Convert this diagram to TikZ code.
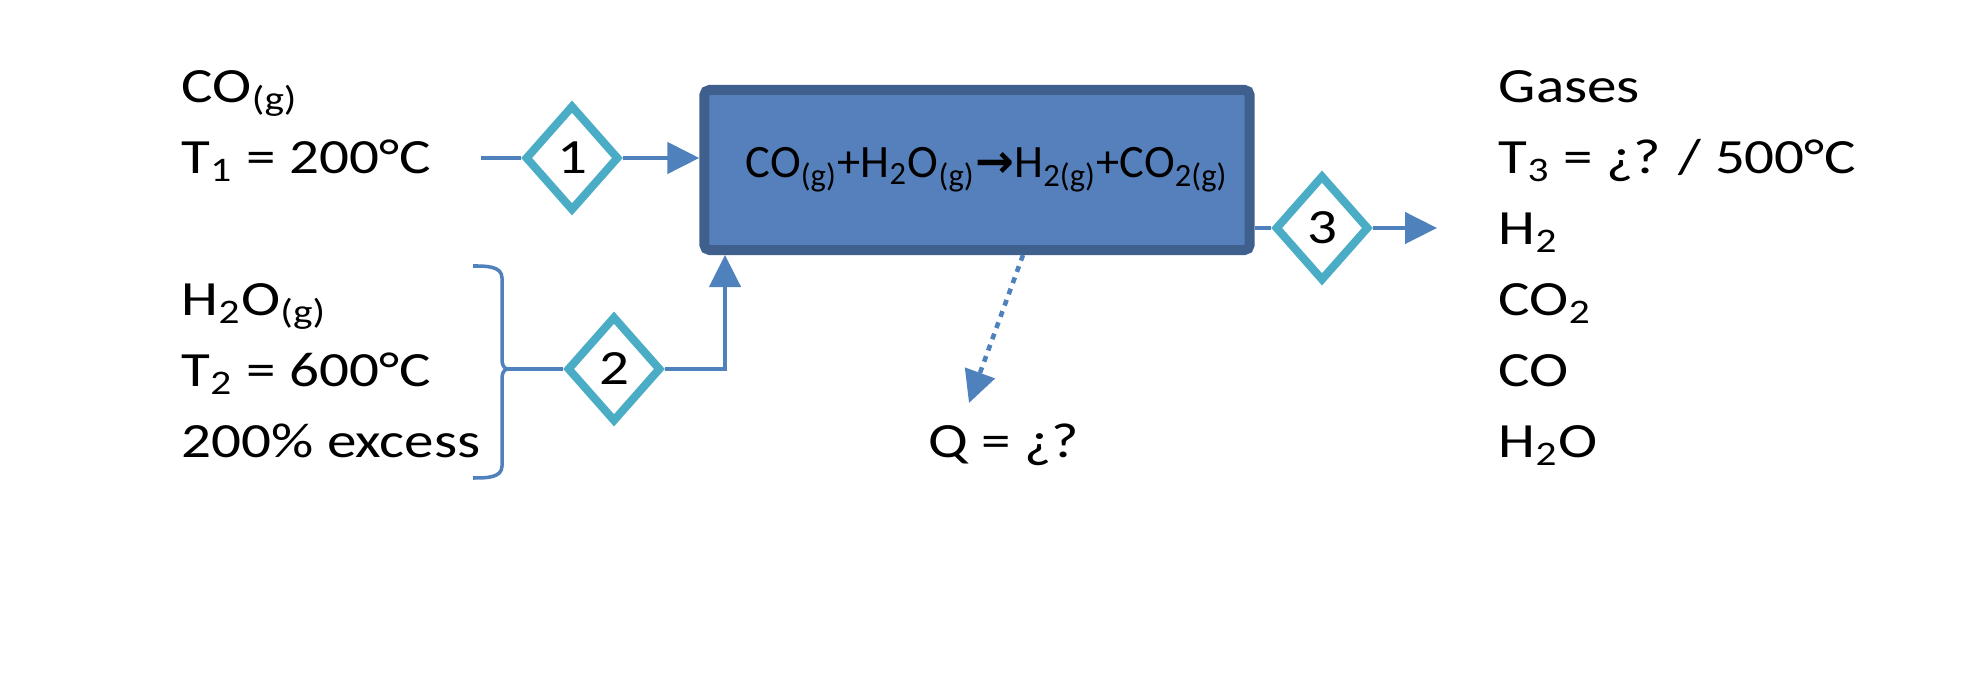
\documentclass[tikz,border=0pt]{standalone}
\usepackage{fontspec}
\setmainfont{Carlito}[FakeStretch=1.2]
\newfontfamily\eqfont{Carlito}
\newfontfamily\arrowfont{DejaVu Sans}
\usepackage{xcolor}
\usetikzlibrary{positioning, arrows.meta, shapes.geometric}

\definecolor{flowblue}{HTML}{4F81BD}
\definecolor{boxfill}{HTML}{5680BB}
\definecolor{boxedge}{HTML}{3F5F8D}
\definecolor{aqua}{HTML}{4BACC6}

\newcommand{\gsub}[1]{\textsubscript{#1}}

\begin{document}
\begin{tikzpicture}[
    x=0.01cm, y=-0.01cm,
    reactor/.style={rectangle, draw=boxedge, fill=boxfill, line width=0.1cm, rounded corners=1.5pt, minimum width=5.45cm, minimum height=1.6cm, inner sep=0pt, font=\eqfont\fontsize{13.2}{15}\selectfont},
    stream/.style={diamond, draw=aqua, fill=white, line width=2.3pt, minimum width=0.94cm, minimum height=1.06cm, inner sep=0pt, font=\fontsize{14}{16}\selectfont},
    txt/.style={anchor=base west, inner sep=0pt, font=\fontsize{14}{16}\selectfont},
    flow/.style={draw=flowblue, line width=1.3pt},
    arr/.style={flow, -{Triangle[length=0.32cm, width=0.31cm]}}
]
\useasboundingbox (0,0) rectangle (1986,686);

% Reactor
\node[reactor] (reactor) at (977,170) {\hspace{0.2cm}CO\gsub{(g)}+H\gsub{2}O\gsub{(g)}{\arrowfont\bfseries →}H\gsub{2(g)}+CO\gsub{2(g)}\raisebox{0.12cm}{}};

% Stream numbers
\node[stream] (d1) at (572,158) {1};
\node[stream] (d2) at (614,369) {2};
\node[stream] (d3) at (1322,228) {3};

% Feed 1
\node[txt] (co) at (181,103) {CO\gsub{(g)}};
\node[txt] (t1) at (181,174) {T\gsub{1} = 200°C};

% Feed 2
\node[txt] (h2o) at (181,316) {H\gsub{2}O\gsub{(g)}};
\node[txt] (t2) at (181,387) {T\gsub{2} = 600°C};
\node[txt] (exc) at (181,458) {200\% excess};

% Product gases
\node[txt] (gases) at (1498,103) {Gases};
\node[txt] (t3) at (1498,174) {T\gsub{3} = ¿? / 500°C};
\node[txt] (h2) at (1498,245) {H\gsub{2}};
\node[txt] (co2) at (1498,316) {CO\gsub{2}};
\node[txt] (coout) at (1498,387) {CO};
\node[txt] (h2oout) at (1498,458) {H\gsub{2}O};

% Heat
\node[txt, anchor=base] (q) at (1004,458) {Q = ¿?};

\coordinate (in1) at (481,158);
\coordinate (brace2) at (508,369);
\coordinate (up2) at (725,255);
\coordinate (out3) at (1437,228);
\coordinate (qsrc) at (1023,255);
\coordinate (qtip) at (969,403);

% Connections
\draw[flow] (in1) -- (d1);
\draw[arr] (d1) -- (d1 -| reactor.west);

\draw[flow, line width=1pt] (473,266) to[out=0, in=90] (502,278) -- (502,360)
    to[out=-90, in=180] (brace2) to[out=180, in=90] (502,378) -- (502,466)
    to[out=-90, in=0] (473,478);
\draw[flow] (brace2) -- (d2);
\draw[arr] (d2) -| (up2);

\draw[flow] (reactor.east |- d3) -- (d3);
\draw[arr] (d3) -- (out3);

\draw[arr, dash pattern=on 1.7pt off 1.7pt] (qsrc) -- (qtip);

\end{tikzpicture}
\end{document}
